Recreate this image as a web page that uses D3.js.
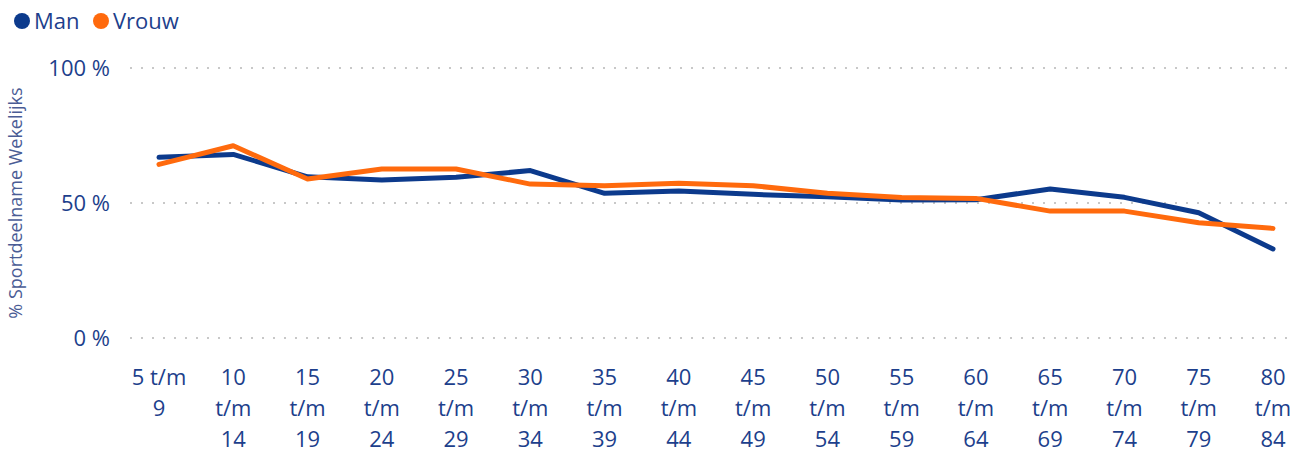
<!DOCTYPE html>
<html>
<head>
<meta charset="utf-8">
<script src="https://cdn.jsdelivr.net/npm/d3@7"></script>
<style>
  body { margin: 0; background: #fff; }
  svg { font-family: "Open Sans", "Noto Sans", sans-serif; }
</style>
</head>
<body>
<div id="chart"></div>
<script>
const categories = ["5 t/m 9", "10 t/m 14", "15 t/m 19", "20 t/m 24", "25 t/m 29", "30 t/m 34",
  "35 t/m 39", "40 t/m 44", "45 t/m 49", "50 t/m 54", "55 t/m 59", "60 t/m 64",
  "65 t/m 69", "70 t/m 74", "75 t/m 79", "80 t/m 84"];
const man = [66.9, 68.0, 59.7, 58.5, 59.5, 62.0, 53.6, 54.4, 53.2, 52.3, 51.1, 51.2, 55.2, 52.1, 46.4, 33.0];
const vrouw = [64.3, 71.2, 58.9, 62.6, 62.6, 57.0, 56.4, 57.3, 56.4, 53.6, 52.0, 51.7, 47.0, 47.0, 42.7, 40.6];
const yTicks = [0, 50, 100];

const W = 1308, H = 452;
const textColor = "#1d3f8c";
const blue = "#0c3a8c", orange = "#ff6a0d";

const svg = d3.select("#chart").append("svg").attr("width", W).attr("height", H);

const x = d3.scalePoint().domain(categories).range([159, 1273]);
const y = d3.scaleLinear().domain([0, 100]).range([338, 68]);

// gridlines
svg.append("g")
  .selectAll("line")
  .data(yTicks)
  .join("line")
  .attr("x1", 130)
  .attr("x2", 1292)
  .attr("y1", (d) => y(d))
  .attr("y2", (d) => y(d))
  .attr("stroke", "#c8c8c8")
  .attr("stroke-width", 2)
  .attr("stroke-dasharray", "2,9");

// y tick labels
svg.append("g")
  .selectAll("text")
  .data(yTicks)
  .join("text")
  .attr("x", 110)
  .attr("y", (d) => y(d))
  .attr("dy", "0.35em")
  .attr("text-anchor", "end")
  .attr("fill", textColor)
  .style("font-size", "22px")
  .text((d) => d + " %");

// y axis title
svg.append("text")
  .attr("transform", `translate(22, ${y(50)}) rotate(-90)`)
  .attr("text-anchor", "middle")
  .attr("fill", "#4a5c95")
  .style("font-size", "18px")
  .text("% Sportdeelname Wekelijks");

// x labels with wrapping
const xl = svg.append("g")
  .selectAll("text")
  .data(categories)
  .join("text")
  .attr("x", (d) => x(d))
  .attr("y", 385)
  .attr("text-anchor", "middle")
  .attr("fill", textColor)
  .style("font-size", "22px");

xl.each(function (d) {
  const t = d3.select(this);
  const words = d.split(" ");
  const lines = [];
  let cur = [];
  words.forEach((w) => {
    t.text(cur.concat([w]).join(" "));
    if (cur.length && this.getComputedTextLength() > 60) {
      lines.push(cur.join(" "));
      cur = [w];
    } else {
      cur.push(w);
    }
  });
  lines.push(cur.join(" "));
  t.text(null);
  lines.forEach((l, i) => {
    t.append("tspan").attr("x", x(d)).attr("dy", i === 0 ? 0 : 31).text(l);
  });
});

// lines
const line = d3.line()
  .x((d, i) => x(categories[i]))
  .y((d) => y(d));

svg.append("path")
  .datum(man)
  .attr("fill", "none")
  .attr("stroke", blue)
  .attr("stroke-width", 5)
  .attr("stroke-linejoin", "round")
  .attr("stroke-linecap", "round")
  .attr("d", line);

svg.append("path")
  .datum(vrouw)
  .attr("fill", "none")
  .attr("stroke", orange)
  .attr("stroke-width", 5)
  .attr("stroke-linejoin", "round")
  .attr("stroke-linecap", "round")
  .attr("d", line);

// legend
const legend = [{ name: "Man", color: blue, x: 22 }, { name: "Vrouw", color: orange, x: 101 }];
const lg = svg.append("g")
  .selectAll("g")
  .data(legend)
  .join("g")
  .attr("transform", (d) => `translate(${d.x}, 21)`);
lg.append("circle").attr("r", 8).attr("fill", (d) => d.color);
lg.append("text")
  .attr("x", 12)
  .attr("dy", "0.35em")
  .attr("fill", textColor)
  .style("font-size", "22px")
  .text((d) => d.name);
</script>
</body>
</html>
